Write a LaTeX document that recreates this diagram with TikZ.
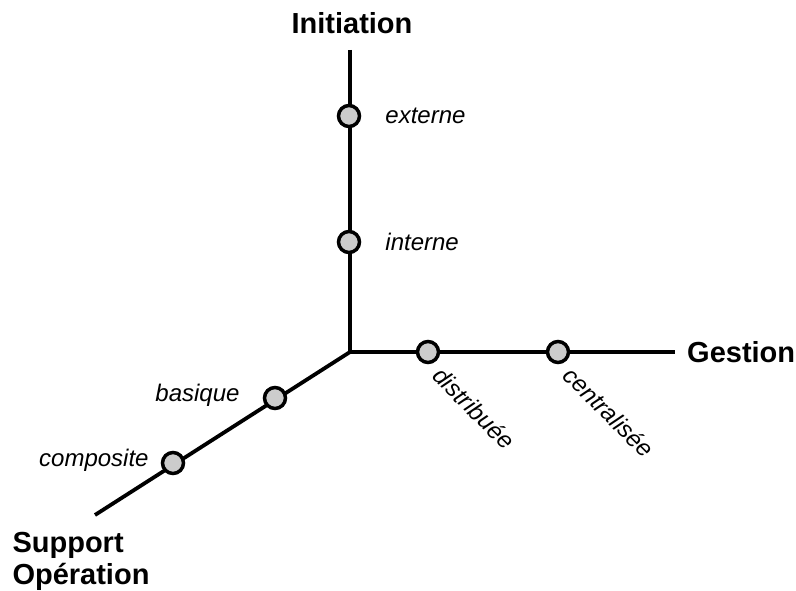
\documentclass[tikz,border=0pt]{standalone}
\usepackage{fontspec}
\setmainfont{Liberation Sans}
\usetikzlibrary{positioning}
\begin{document}
\begin{tikzpicture}[x=1pt,y=-1pt,
  axis/.style={line width=3.8pt},
  pt/.style={circle,draw,line width=3.5pt,fill=black!20,minimum size=21pt,inner sep=0pt},
  val/.style={font=\fontsize{24}{28}\selectfont\itshape,inner sep=0pt},
  dim/.style={font=\fontsize{29}{32}\selectfont\bfseries,inner sep=0pt}]
\useasboundingbox (0,0) rectangle (796,591);
% axes
\coordinate (o) at (350,352);
\coordinate (top) at (350,50);
\coordinate (rgt) at (675,352);
\coordinate (low) at (95,515);
\draw[axis] (top) -- (o) -- (rgt);
\draw[axis] (o) -- (low);
\node[dim,above=16pt of top,xshift=2pt] (init) {Initiation};
\node[dim,right=12pt of rgt] (gest) {Gestion};
\node[dim,align=left,below=17pt of low,xshift=-14pt] (supp) {Support\\Opération};
% values on each axis
\node[pt] (ext) at (349,116) {};
\node[pt] (int) at (349,242) {};
\node[pt] (dis) at (428,352) {};
\node[pt] (cen) at (558,352) {};
\node[pt] (bas) at (275,398) {};
\node[pt] (com) at (173,463) {};
\node[val,right=24pt of ext] (lext) {externe};
\node[val,right=24pt of int] (lint) {interne};
\node[val,rotate=-45] (ldis) at ([shift={(46,56)}]dis) {distribuée};
\node[val,rotate=-45] (lcen) at ([shift={(51,60)}]cen) {centralisée};
\node[val,left=23pt of bas,yshift=3pt] (lbas) {basique};
\node[val,left=12pt of com,yshift=3pt] (lcom) {composite};
\end{tikzpicture}
\end{document}
